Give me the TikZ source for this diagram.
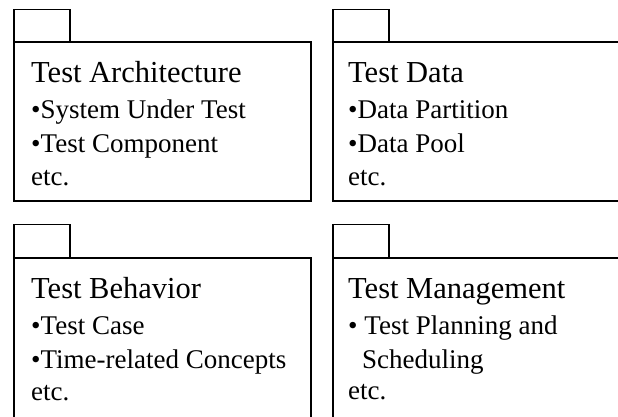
\documentclass[tikz,border=0pt]{standalone}
\usepackage{fontspec}
\setmainfont{Liberation Serif}
\tikzset{
  pkg/.style={draw=black, line width=1.6pt, fill=white},
  ttl/.style={anchor=base west, inner sep=0pt, font=\fontsize{30.5}{36}\selectfont},
  itm/.style={anchor=base west, inner sep=0pt, font=\fontsize{27}{32}\selectfont}
}
\begin{document}
\begin{tikzpicture}[x=1pt,y=-1pt]
\useasboundingbox (0,0) rectangle (618,416);
\clip (0,0) rectangle (618,416);
% packages
\draw[pkg] (14,9.5) rectangle (70,42);
\draw[pkg] (14,42) rectangle (311,201);
\draw[pkg] (333,9.5) rectangle (389,42);
\draw[pkg] (333,42) rectangle (640,201);
\draw[pkg] (14,224.5) rectangle (70,258);
\draw[pkg] (14,258) rectangle (311,440);
\draw[pkg] (333,224.5) rectangle (389,258);
\draw[pkg] (333,258) rectangle (640,440);
% texts top-left
\node[ttl] (a0) at (31,82) {Test Architecture};
\node[itm] (a1) at (31,118) {•System Under Test};
\node[itm] (a2) at (31,152) {•Test Component};
\node[itm] (a3) at (31,185) {etc.};
% top-right
\node[ttl] (b0) at (348,82) {Test Data};
\node[itm] (b1) at (348,118) {•Data Partition};
\node[itm] (b2) at (348,152) {•Data Pool};
\node[itm] (b3) at (348,185) {etc.};
% bottom-left
\node[ttl] (c0) at (31,298) {Test Behavior};
\node[itm] (c1) at (31,334) {•Test Case};
\node[itm] (c2) at (31,368) {•Time-related Concepts};
\node[itm] (c3) at (31,400) {etc.};
% bottom-right
\node[ttl] (d0) at (348,298) {Test Management};
\node[itm] (d1) at (348,334) {• Test Planning and};
\node[itm] (d2) at (362,368) {Scheduling};
\node[itm] (d3) at (348,399) {etc.};
\end{tikzpicture}
\end{document}
